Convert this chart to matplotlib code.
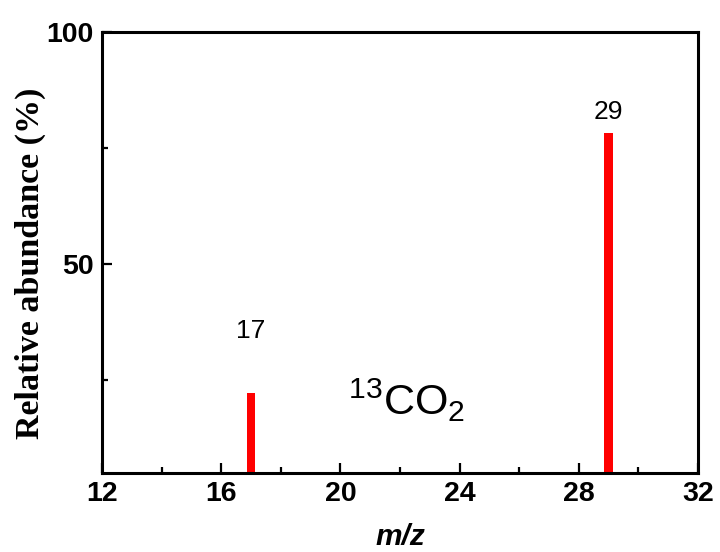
import matplotlib
matplotlib.use("Agg")
import matplotlib.pyplot as plt
from matplotlib.ticker import MultipleLocator

plt.rcParams['mathtext.fontset'] = 'custom'
plt.rcParams['mathtext.rm'] = 'Liberation Sans'
plt.rcParams['mathtext.it'] = 'Liberation Sans:italic'
plt.rcParams['mathtext.bf'] = 'Liberation Sans:bold'

# Data
mz = [17, 29]
abundance = [22.1, 78.2]
peak_labels = ["17", "29"]
label_y = [35.6, 82.8]
xticks = [12, 16, 20, 24, 28, 32]
yticks = [50, 100]

fig = plt.figure(figsize=(7.2, 5.52), dpi=100)
ax = fig.add_axes([0.1417, 0.1438, 0.8277, 0.7982])

ax.bar(mz, abundance, width=0.28, color='#ff0000', bottom=0)

for x, ly, t in zip(mz, label_y, peak_labels):
    ax.text(x, ly, t, ha='center', va='center', fontsize=19,
            family='Liberation Sans')

ax.text(20.26, 17.5, r'$\mathregular{^{13}CO_2}$', ha='left', va='baseline',
        fontsize=31, family='Liberation Sans')

ax.set_xlim(12, 32)
ax.set_ylim(5, 100)
ax.set_xticks(xticks)
ax.set_yticks(yticks)
ax.xaxis.set_minor_locator(MultipleLocator(2))
ax.yaxis.set_minor_locator(MultipleLocator(25))

for lbl in ax.get_xticklabels() + ax.get_yticklabels():
    lbl.set_fontfamily('Liberation Sans')
    lbl.set_fontweight('bold')
    lbl.set_fontsize(20.5)

ax.tick_params(which='major', direction='in', length=7, width=1.6, pad=6,
               top=False, right=False)
ax.tick_params(which='minor', direction='in', length=4, width=1.6,
               top=False, right=False)
for s in ax.spines.values():
    s.set_linewidth(2.2)

ax.set_xlabel('m/z', fontsize=21.5, fontweight='bold', fontstyle='italic',
              family='Liberation Sans')
ax.xaxis.set_label_coords(0.5, -0.114)
ax.set_ylabel('Relative abundance (%)', fontsize=24.5, fontweight='bold',
              family='Liberation Serif')
ax.yaxis.set_label_coords(-0.094, 0.476)

fig.savefig('out.png', dpi=100)
